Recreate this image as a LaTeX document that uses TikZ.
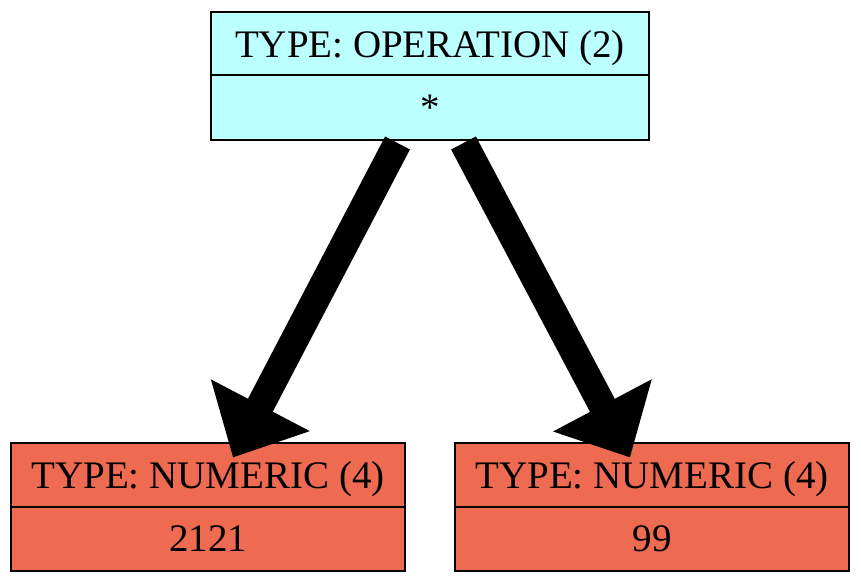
\documentclass[tikz,border=0pt]{standalone}
\usepackage{fontspec}
\setmainfont{Liberation Serif}
\usetikzlibrary{arrows.meta,calc}
\definecolor{opfill}{HTML}{BBFFFF}
\definecolor{numfill}{HTML}{EE6A50}
\begin{document}
\begin{tikzpicture}[x=1pt,y=-1pt,
  cell/.style={draw=black,line width=2pt,inner sep=0pt,minimum height=64pt,
    font=\fontsize{39}{39}\selectfont,text depth=0pt,anchor=center},
  opcell/.style={cell,fill=opfill,minimum width=438pt},
  numcell/.style={cell,fill=numfill,minimum width=394pt},
  edge/.style={line width=28pt,-{Triangle[length=59pt,width=108pt]}}]
\useasboundingbox (0,0) rectangle (861,583);
\node[opcell] (oph) at (430,44) {TYPE: OPERATION (2)};
\node[opcell] (opv) at (430,107.5) {*};
\node[numcell] (lh) at (208,474.5) {TYPE: NUMERIC (4)};
\node[numcell] (lv) at (208,539) {2121};
\node[numcell] (rh) at (652,474.5) {TYPE: NUMERIC (4)};
\node[numcell] (rv) at (652,539) {99};
\draw[edge] ($(opv.south)+(-32.5,2.5)$) -- ($(lh.north)+(25,16)$);
\draw[edge] ($(opv.south)+(33.5,2.5)$) -- ($(rh.north)+(-22,16)$);
\end{tikzpicture}
\end{document}
